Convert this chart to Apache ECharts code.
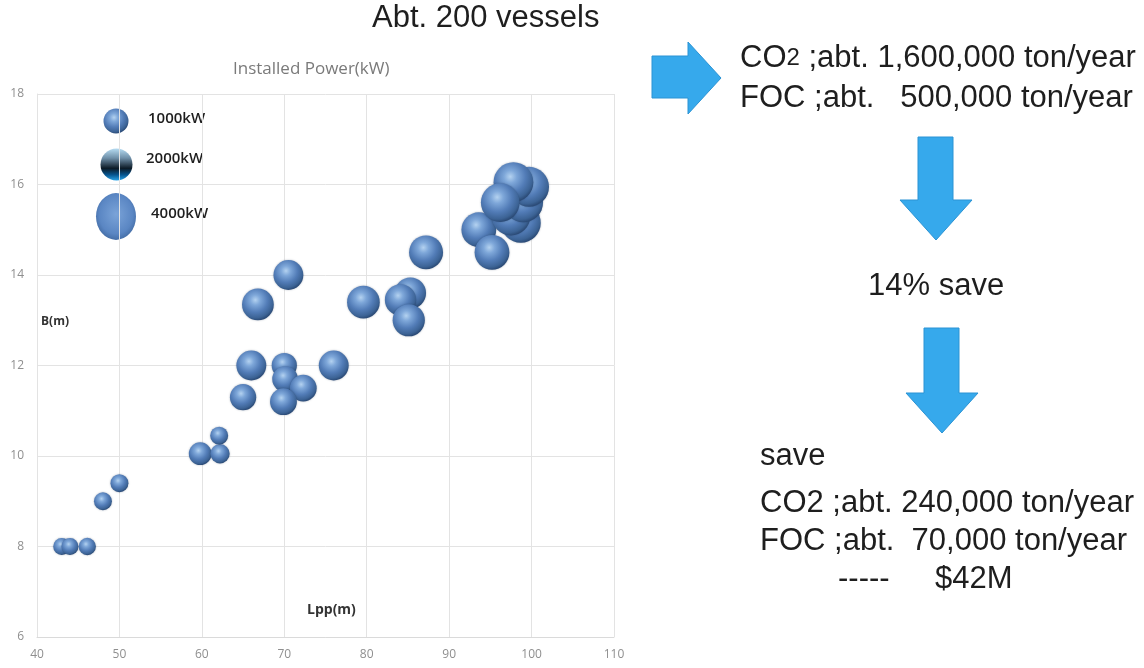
<!DOCTYPE html>
<html>
<head>
<meta charset="utf-8">
<script src="https://cdn.jsdelivr.net/npm/echarts@6/dist/echarts.min.js"></script>
<style>
html,body{margin:0;padding:0;background:#fff;}
#main{width:1144px;height:668px;}
</style>
</head>
<body>
<div id="main"></div>
<script>
// Lpp (m), B (m), Installed power (kW)
var lpp   = [43.0, 44.0, 46.1, 48.0, 50.0, 59.8, 62.2, 62.1, 65.0, 66.0, 66.8, 70.5, 70.0, 70.1, 72.3, 69.9, 76.0, 79.6, 85.3, 84.1, 85.1, 87.2, 93.6, 95.2, 98.7, 97.5, 99.0, 99.7, 97.8, 96.2];
var beam  = [8.0, 8.0, 8.0, 9.0, 9.4, 10.05, 10.05, 10.45, 11.3, 12.0, 13.35, 14.0, 12.0, 11.7, 11.5, 11.2, 12.0, 13.4, 13.6, 13.45, 13.0, 14.5, 15.0, 14.5, 15.15, 15.3, 15.6, 15.95, 16.05, 15.6];
var power = [500, 500, 520, 560, 560, 900, 650, 560, 1200, 1550, 1750, 1550, 1100, 1150, 1250, 1250, 1550, 1850, 1700, 1700, 1800, 2000, 2100, 2100, 2750, 2600, 2700, 2750, 2750, 2600];
var xTicks = {min: 40, max: 110, interval: 10};
var yTicks = {min: 6, max: 18, interval: 2};
var legendLabels = ['1000kW', '2000kW', '4000kW'];
var chartTitle = 'Installed Power(kW)';

var points = lpp.map(function (l, i) { return [l, beam[i], power[i]]; });

var sphere = {
  type: 'radial', x: 0.42, y: 0.36, r: 0.64,
  colorStops: [
    {offset: 0, color: '#b4d2f0'},
    {offset: 0.25, color: '#7ea7d9'},
    {offset: 0.6, color: '#527cb7'},
    {offset: 0.88, color: '#3c6395'},
    {offset: 1, color: '#2c4c78'}
  ]
};
function sphereGrad() { return JSON.parse(JSON.stringify(sphere)); }

var FONT = 'Liberation Sans, Arial, sans-serif';
var txt = '#1e1e1e';
var arrowFill = '#36a9ec';
var arrowStroke = '#2b93d4';

var chart = echarts.init(document.getElementById('main'));
chart.setOption({
  animation: false,
  backgroundColor: '#ffffff',
  grid: {left: 37, top: 94, width: 577, height: 543, containLabel: false},
  xAxis: {
    type: 'value', min: xTicks.min, max: xTicks.max, interval: xTicks.interval,
    axisLine: {show: true, lineStyle: {color: '#dadada'}},
    axisTick: {show: false},
    splitLine: {show: true, lineStyle: {color: '#e3e3e3'}},
    axisLabel: {color: '#8f8f8f', fontSize: 12, fontFamily: 'Open Sans', margin: 12}
  },
  yAxis: {
    type: 'value', min: yTicks.min, max: yTicks.max, interval: yTicks.interval,
    axisLine: {show: true, lineStyle: {color: '#e3e3e3'}},
    axisTick: {show: false},
    splitLine: {show: true, lineStyle: {color: '#e3e3e3'}},
    axisLabel: {color: '#8f8f8f', fontSize: 12, fontFamily: 'Open Sans', margin: 13}
  },
  series: [{
    type: 'scatter',
    data: points,
    symbolSize: function (v) { return 24 * Math.sqrt(v[2] / 1000); },
    itemStyle: {color: sphereGrad(), opacity: 1, shadowBlur: 2, shadowColor: 'rgba(20,40,70,0.35)'}
  }],
  graphic: [
    {type: 'text', left: 233, top: 61, style: {text: chartTitle, fill: '#7a7a7a', font: '17px Open Sans'}},
    {type: 'text', left: 41, top: 316, style: {text: 'B(m)', fill: '#333', font: 'bold 12px Open Sans'}},
    {type: 'text', left: 307, top: 603, style: {text: 'Lpp(m)', fill: '#333', font: 'bold 14px Open Sans'}},
    // in-plot size legend
    {type: 'circle', shape: {cx: 116, cy: 121, r: 12.5}, style: {fill: sphereGrad()}},
    {type: 'circle', shape: {cx: 116.5, cy: 164.5, r: 16}, style: {fill: {
      type: 'linear', x: 0, y: 0, x2: 0, y2: 1,
      colorStops: [
        {offset: 0, color: '#b6dcf2'},
        {offset: 0.3, color: '#6f8fa8'},
        {offset: 0.62, color: '#0c1a26'},
        {offset: 0.82, color: '#06548e'},
        {offset: 1, color: '#2aa3e6'}
      ]}}},
    {type: 'circle', shape: {cx: 0, cy: 0, r: 20}, x: 116, y: 216.5, scaleY: 1.17, style: {fill: {
      type: 'radial', x: 0.5, y: 0.45, r: 0.6,
      colorStops: [{offset: 0, color: '#7aa3d8'}, {offset: 0.7, color: '#5a86c3'}, {offset: 1, color: '#3d659c'}]}}},
    {type: 'text', left: 148, top: 111, style: {text: legendLabels[0], fill: txt, font: '600 15px Open Sans'}},
    {type: 'text', left: 146, top: 151, style: {text: legendLabels[1], fill: txt, font: '600 15px Open Sans'}},
    {type: 'text', left: 151, top: 206, style: {text: legendLabels[2], fill: txt, font: '600 15px Open Sans'}},
    // right-hand annotations
    {type: 'text', left: 372, top: 3, style: {text: 'Abt. 200 vessels', fill: txt, font: '31px ' + FONT}},
    {type: 'polygon', shape: {points: [[652, 56], [688, 56], [688, 42], [721, 78], [688, 114], [688, 98], [652, 98]]},
      style: {fill: arrowFill, stroke: arrowStroke, lineWidth: 1}},
    {type: 'text', left: 740, top: 43, style: {
      text: '{a|CO}{b|2}{a| ;abt. 1,600,000 ton/year}',
      rich: {a: {font: '31px ' + FONT, fill: txt}, b: {font: '24px ' + FONT, fill: txt}}}},
    {type: 'text', left: 740, top: 83, style: {text: 'FOC ;abt.   500,000 ton/year', fill: txt, font: '31px ' + FONT}},
    {type: 'polygon', shape: {points: [[918, 137], [953, 137], [953, 200], [972, 200], [936, 240], [900, 200], [918, 200]]},
      style: {fill: arrowFill, stroke: arrowStroke, lineWidth: 1}},
    {type: 'text', left: 868, top: 271, style: {text: '14% save', fill: txt, font: '31px ' + FONT}},
    {type: 'polygon', shape: {points: [[924, 328], [959, 328], [959, 393], [978, 393], [942, 433], [906, 393], [924, 393]]},
      style: {fill: arrowFill, stroke: arrowStroke, lineWidth: 1}},
    {type: 'text', left: 760, top: 441, style: {text: 'save', fill: txt, font: '31px ' + FONT}},
    {type: 'text', left: 760, top: 488, style: {text: 'CO2 ;abt. 240,000 ton/year', fill: txt, font: '31px ' + FONT}},
    {type: 'text', left: 760, top: 526, style: {text: 'FOC ;abt.  70,000 ton/year', fill: txt, font: '31px ' + FONT}},
    {type: 'text', left: 838, top: 564, style: {text: '-----', fill: txt, font: '31px ' + FONT}},
    {type: 'text', left: 935, top: 564, style: {text: '$42M', fill: txt, font: '31px ' + FONT}}
  ]
});
</script>
</body>
</html>
